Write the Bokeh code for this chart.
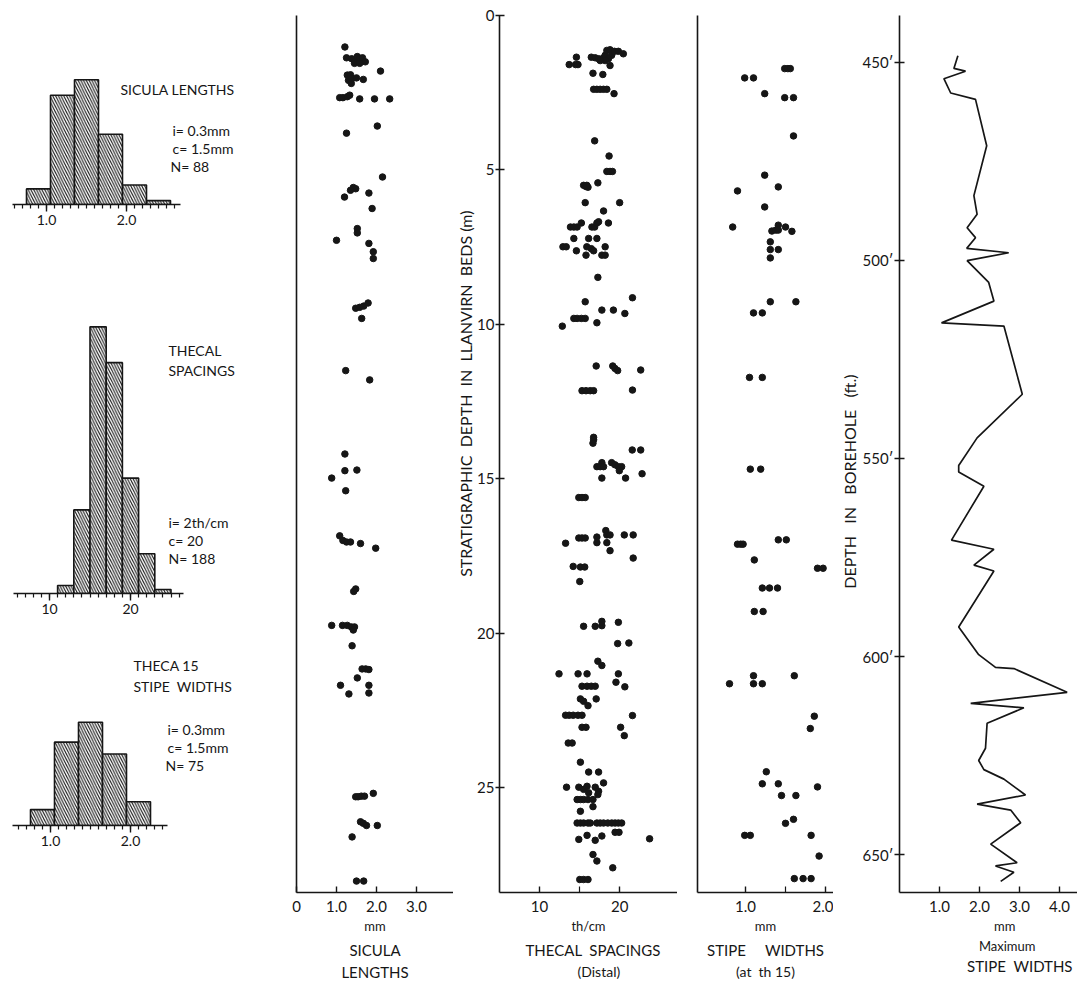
from bokeh.plotting import figure
from bokeh.layouts import row, column
from bokeh.models import Range1d, FixedTicker, Label, Title, PrintfTickFormatter
from bokeh.embed import file_html
from bokeh.resources import INLINE

FONT = "Lato"
INK = "#161616"
NB = "\u00a0"

# ---------------- histogram data ----------------
sic_edges = [0.75, 1.05, 1.35, 1.65, 1.95, 2.25, 2.55]
sic_counts = [4, 28, 32, 18, 5, 1]
thc_edges = [11, 13, 15, 17, 19, 21, 23, 25]
thc_counts = [2, 21, 67, 58, 29, 10, 1]
stw_edges = [0.75, 1.05, 1.35, 1.65, 1.95, 2.25]
stw_counts = [4, 21, 26, 18, 6]

# ---------------- sicula lengths (mm) vs depth (m) ----------------
sic_len = [1.21, 1.25, 1.38, 1.46, 1.52, 1.58, 1.65, 1.72, 1.45, 1.58, 2.1,
           1.27, 1.35, 1.30, 1.38, 1.50, 1.67, 1.37, 1.08, 1.16, 1.27, 1.33, 1.58, 1.95, 2.33,
           2.02, 1.25, 2.15, 1.42, 1.48, 1.35, 1.2, 1.81, 1.89, 1.52, 1.52, 1.0, 1.81, 1.92, 1.92,
           1.48, 1.58, 1.68, 1.79, 1.63, 1.23, 1.83, 1.21, 1.21, 1.51, 0.88, 1.23,
           1.08, 1.16, 1.25, 1.35, 1.6, 1.98, 1.43, 1.48, 0.88, 1.15, 1.27, 1.37, 1.45, 1.42,
           1.39, 1.64, 1.73, 1.81, 1.52, 1.1, 1.81, 1.31, 1.81, 1.48, 1.54, 1.62, 1.70, 1.92,
           1.6, 1.67, 1.75, 2.02, 1.39, 1.5, 1.68]
sic_dep = [1.02, 1.37, 1.40, 1.50, 1.33, 1.40, 1.37, 1.50, 1.55, 1.55, 1.80,
           1.93, 1.92, 2.10, 2.05, 2.02, 2.07, 2.20, 2.66, 2.66, 2.63, 2.58, 2.70, 2.70, 2.70,
           3.58, 3.81, 5.23, 5.57, 5.61, 5.66, 5.88, 5.75, 6.25, 6.90, 7.04, 7.28, 7.38, 7.65, 7.87,
           9.48, 9.45, 9.41, 9.31, 9.81, 11.5, 11.8, 14.2, 14.74, 14.72, 14.98, 15.39,
           16.85, 17.0, 17.05, 17.05, 17.1, 17.25, 18.65, 18.57, 19.75, 19.75, 19.75, 19.8, 19.8, 19.9,
           20.41, 21.16, 21.16, 21.18, 21.45, 21.69, 21.69, 21.97, 21.94, 25.3, 25.3, 25.28, 25.28, 25.19,
           26.11, 26.16, 26.23, 26.23, 26.6, 28.03, 28.03]

# ---------------- thecal spacings (th/cm) vs depth (m) ----------------
thc_val = [14.6, 13.7, 14.5, 14.8, 16.46, 16.95, 17.37, 17.78, 17.99, 18.19, 18.4, 18.8, 19.0, 19.35,
           19.84, 20.46, 18.6, 18.19, 17.57, 18.8, 16.67, 17.9, 16.75, 17.15, 17.57, 17.98, 18.4, 19.3,
           16.88, 18.68, 18.4, 18.8, 19.1, 17.28, 15.5, 15.8, 16.05, 15.9, 15.7, 20.0, 17.99,
           13.86, 14.28, 14.69, 15.22, 16.54, 16.88, 17.16, 17.37, 18.6, 14.28, 16.13, 17.16,
           12.92, 13.33, 15.9, 16.46, 16.75, 14.6, 15.8, 18.19, 17.78, 18.19,
           17.28, 21.6, 15.7, 17.78, 19.22, 20.65, 14.28, 14.69, 15.22, 15.7, 12.84, 17.16,
           17.07, 19.14, 19.42, 19.75, 22.63, 15.3, 15.8, 16.33, 16.75, 21.6,
           16.75, 16.75, 16.67, 21.57, 22.63, 17.78, 17.16, 17.57, 17.99, 19.0, 19.42, 19.84, 20.25, 19.96,
           17.78, 20.74, 22.8, 14.9, 15.3, 15.7, 13.25, 14.9, 15.3, 15.7, 17.16, 17.16,
           18.27, 18.4, 18.8, 18.4, 18.8, 20.58, 21.69, 21.69, 14.2, 15.1, 15.64, 15.02,
           15.5, 16.95, 17.78, 17.78, 19.84, 19.75, 21.15, 17.28, 17.78, 12.43, 14.81, 15.93, 19.84,
           15.3, 15.93, 16.46, 16.95, 19.54, 20.65, 15.1, 15.5, 16.05, 17.07,
           13.25, 13.7, 14.2, 14.8, 15.3, 21.6, 15.3, 15.8, 20.12, 20.58,
           13.58, 14.07, 15.1, 16.13, 17.37, 13.37, 14.9, 15.5, 15.93, 16.13, 16.95, 17.37, 17.99, 17.28,
           14.69, 15.1, 15.5, 16.05, 16.67, 15.1, 16.67,
           14.69, 15.1, 15.5, 16.05, 16.34, 17.16, 17.57, 17.99, 18.52, 19.01, 19.43, 19.84, 20.25,
           19.43, 19.92, 14.9, 15.93, 16.95, 17.78, 23.74, 16.67, 17.16, 19.14, 15.02, 15.5, 16.05]
thc_dep = [1.35, 1.59, 1.59, 1.59, 1.35, 1.37, 1.40, 1.43, 1.37, 1.29, 1.13, 1.11, 1.29, 1.16,
           1.16, 1.24, 1.40, 1.46, 1.46, 1.62, 1.87, 1.91, 2.39, 2.39, 2.39, 2.39, 2.39, 2.53,
           4.06, 4.55, 5.05, 5.05, 5.05, 5.42, 5.5, 5.54, 5.56, 5.5, 6.06, 6.06, 6.33,
           6.85, 6.85, 6.85, 6.72, 6.85, 6.85, 6.72, 6.68, 6.72, 7.22, 7.22, 7.22,
           7.49, 7.49, 7.49, 7.55, 7.62, 7.62, 7.76, 7.49, 7.76, 7.76,
           8.48, 9.14, 9.27, 9.54, 9.54, 9.65, 9.81, 9.81, 9.81, 9.81, 10.06, 9.95,
           11.35, 11.35, 11.43, 11.5, 11.48, 12.15, 12.15, 12.15, 12.15, 12.13,
           13.66, 13.74, 13.85, 14.07, 14.07, 14.48, 14.61, 14.61, 14.61, 14.48, 14.55, 14.61, 14.61, 14.74,
           14.98, 14.98, 14.84, 15.61, 15.61, 15.61, 17.09, 16.92, 16.92, 16.92, 16.89, 17.07,
           16.68, 16.82, 16.82, 17.07, 17.33, 16.82, 16.82, 17.57, 17.84, 17.86, 17.86, 18.33,
           19.78, 19.78, 19.76, 19.62, 19.65, 20.34, 20.32, 20.91, 21.05, 21.32, 21.32, 21.32, 21.32,
           21.72, 21.72, 21.72, 21.72, 21.59, 21.74, 22.13, 22.21, 22.35, 22.13,
           22.66, 22.66, 22.66, 22.66, 22.66, 22.67, 23.05, 23.05, 23.05, 23.32,
           23.56, 23.56, 24.18, 24.5, 24.5, 24.99, 24.99, 25.06, 24.96, 25.17, 24.99, 25.12, 24.85, 25.23,
           25.39, 25.39, 25.39, 25.39, 25.39, 25.77, 25.62,
           26.15, 26.15, 26.15, 26.15, 26.15, 26.15, 26.15, 26.15, 26.15, 26.15, 26.15, 26.15, 26.15,
           26.45, 26.45, 26.68, 26.55, 26.71, 26.57, 26.66, 27.17, 27.38, 27.6, 27.98, 27.98, 27.98]

# ---------------- stipe widths at th15 (mm) vs depth (m) ----------------
stw_val = [1.49, 1.53, 1.56, 0.99, 1.10, 1.24, 1.49, 1.6, 1.6, 1.24, 1.41, 0.9, 1.24, 0.84,
           1.33, 1.38, 1.41, 1.41, 1.5, 1.58, 1.31, 1.31, 1.41, 1.31,
           1.31, 1.63, 1.1, 1.21, 1.05, 1.21, 1.06, 1.19,
           0.9, 0.94, 0.97, 1.41, 1.51, 1.11, 1.9, 1.97, 1.21, 1.3, 1.4, 1.11, 1.22,
           0.8, 1.1, 1.1, 1.21, 1.61, 1.86, 1.81, 1.26, 1.21, 1.41, 1.9, 1.45, 1.63, 1.6, 1.5,
           0.99, 1.06, 1.82, 1.92, 1.61, 1.72, 1.82]
stw_dep = [1.72, 1.72, 1.72, 2.02, 2.02, 2.53, 2.66, 2.66, 3.9, 5.17, 5.55, 5.68, 6.2, 6.85,
           6.98, 6.95, 6.79, 6.95, 6.85, 6.99, 7.33, 7.58, 7.58, 7.85,
           9.27, 9.27, 9.63, 9.63, 11.72, 11.72, 14.69, 14.69,
           17.12, 17.12, 17.12, 16.98, 16.98, 17.63, 17.9, 17.9, 18.54, 18.54, 18.54, 19.3, 19.3,
           21.64, 21.38, 21.64, 21.64, 21.38, 22.69, 23.09, 24.49, 24.88, 24.88, 24.98, 25.26, 25.26, 26.03, 26.16,
           26.55, 26.55, 26.55, 27.22, 27.95, 27.95, 27.95]

# ---------------- maximum stipe widths (mm) vs borehole depth (ft) ----------------
max_w = [1.46, 1.36, 1.65, 1.11, 1.28, 1.90, 2.18, 1.86, 1.94, 1.69, 1.90, 1.68, 2.73, 1.69,
         2.23, 2.36, 1.05, 2.61, 3.07, 1.94, 1.48, 1.48, 2.11, 1.30, 2.36, 1.86, 2.36, 1.48,
         1.98, 2.40, 2.86, 4.19, 1.78, 3.11, 2.19, 2.15, 1.98, 2.11, 2.61, 3.15, 1.94, 2.78,
         3.03, 2.28, 2.94, 2.40, 2.86, 2.53]
bore_ft = [448.4, 451.6, 452.3, 454.2, 457.8, 459.4, 471.1, 483.7, 488.4, 491.8, 494.3, 497.0, 498.1, 500.1,
           505.6, 510.3, 515.8, 516.6, 533.8, 544.8, 551.8, 553.4, 557.0, 570.6, 572.9, 576.9, 578.4, 592.5,
           599.5, 602.7, 603.0, 609.0, 611.8, 612.9, 616.8, 623.1, 626.2, 628.5, 630.9, 634.9, 637.2, 638.7,
           641.9, 647.3, 652.0, 652.8, 654.4, 656.7]

# tick values
sic_hist_ticks = [1.0, 2.0]
sic_hist_minor = [0.6, 0.7, 0.8, 0.9, 1.0, 1.1, 1.2, 1.3, 1.4, 1.5, 1.6, 1.7, 1.8, 1.9, 2.0, 2.1, 2.2, 2.3, 2.4, 2.5, 2.6]
thc_hist_ticks = [10, 20]
thc_hist_minor = [6, 7, 8, 9, 10, 11, 12, 13, 14, 15, 16, 17, 18, 19, 20, 21, 22, 23, 24, 25, 26]
stw_hist_ticks = [1.0, 2.0]
stw_hist_minor = [0.6, 0.7, 0.8, 0.9, 1.0, 1.1, 1.2, 1.3, 1.4, 1.5, 1.6, 1.7, 1.8, 1.9, 2.0, 2.1, 2.2, 2.3, 2.4]
depth_ticks = [0, 5, 10, 15, 20, 25]
bore_ticks = [450, 500, 550, 600, 650]


def style_axis(ax, size="14px"):
    ax.major_label_text_font = FONT
    ax.major_label_text_font_size = size
    ax.major_label_text_color = INK
    ax.axis_line_color = INK
    ax.axis_line_width = 1.6
    ax.major_tick_line_color = INK
    ax.major_tick_line_width = 1.4
    ax.minor_tick_line_color = INK
    ax.minor_tick_line_width = 1.2
    ax.axis_label_text_font = FONT
    ax.axis_label_text_font_style = "normal"
    ax.axis_label_text_color = INK


def add_title(p, text, side, size="15px", align="center", offset=0, standoff=1):
    p.add_layout(Title(text=text, align=align, offset=offset, standoff=standoff,
                       text_font=FONT, text_font_size=size, text_font_style="normal",
                       text_color=INK), side)


def make_hist(fig_top, height, top_b, bot_b, x0, sx, sy, edges, counts, ticks, minor, bounds, texts):
    frame_h = height - top_b - bot_b
    base = fig_top + top_b + frame_h
    p = figure(width=288, height=height, x_range=Range1d(x0, x0 + 288 / sx),
               y_range=Range1d(0, frame_h / sy), output_backend="svg", toolbar_location=None,
               min_border_left=0, min_border_right=0, min_border_top=top_b, min_border_bottom=bot_b)
    p.yaxis.visible = False
    p.grid.visible = False
    p.outline_line_color = None
    p.quad(left=edges[:-1], right=edges[1:], bottom=0, top=counts, fill_color="white",
           line_color=INK, line_width=1.6, hatch_pattern="left_diagonal_line",
           hatch_color=INK, hatch_weight=1.1, hatch_scale=5.5)
    ax = p.xaxis[0]
    ax.ticker = FixedTicker(ticks=ticks, minor_ticks=minor)
    ax.formatter = PrintfTickFormatter(format="%.1f" if ticks[0] < 5 else "%d")
    ax.bounds = bounds
    style_axis(ax, "14px")
    ax.major_tick_in = 0
    ax.major_tick_out = 7
    ax.minor_tick_in = 0
    ax.minor_tick_out = 4
    ax.major_label_standoff = 3
    for X, Y, txt in texts:
        p.add_layout(Label(x=x0 + X / sx, y=(base - Y) / sy, text=txt,
                           text_font=FONT, text_font_size="14px", text_color=INK,
                           text_baseline="middle", text_align="left"))
    return p


h1 = make_hist(0, 250, 30, 46, 0.425, 80, 3.9, sic_edges, sic_counts, sic_hist_ticks, sic_hist_minor,
               (0.58, 2.67), [(120, 89, "SICULA" + NB + "LENGTHS"), (172, 130, "i=" + NB + "0.3mm"),
                              (172, 148, "c=" + NB + "1.5mm"), (170, 166, "N=" + NB + "88")])
h2 = make_hist(250, 370, 40, 27, 3.95, 8.1, 3.98, thc_edges, thc_counts, thc_hist_ticks, thc_hist_minor,
               (5.5, 26.5), [(168, 350, "THECAL"), (168, 370, "SPACINGS"), (168, 522, "i=" + NB + "2th/cm"),
                             (168, 540, "c=" + NB + "20"), (168, 558, "N=" + NB + "188")])
h3 = make_hist(620, 361, 30, 156, 0.375, 80, 3.97, stw_edges, stw_counts, stw_hist_ticks, stw_hist_minor,
               (0.53, 2.46), [(133, 665, "THECA" + NB + "15"), (133, 686, "STIPE" + NB * 2 + "WIDTHS"),
                              (167, 729, "i=" + NB + "0.3mm"), (167, 747, "c=" + NB + "1.5mm"),
                              (165, 765, "N=" + NB + "75")])


def make_panel(width, left_b, x0, sx, yr, top_b, bot_b=88):
    frame_w = width - left_b
    p = figure(width=width, height=981, x_range=Range1d(x0, x0 + frame_w / sx), y_range=yr,
               output_backend="svg", toolbar_location=None, min_border_left=left_b,
               min_border_right=0, min_border_top=top_b, min_border_bottom=bot_b)
    p.grid.visible = False
    p.outline_line_color = None
    xa = p.xaxis[0]
    style_axis(xa, "15px")
    xa.major_tick_in = 6
    xa.major_tick_out = 0
    xa.minor_tick_in = 6
    xa.minor_tick_out = 0
    xa.major_label_standoff = 8
    xa.axis_label_standoff = 3
    xa.axis_label_text_font_size = "13px"
    ya = p.yaxis[0]
    style_axis(ya, "15px")
    return p


def plain_y(p):
    ya = p.yaxis[0]
    ya.ticker = FixedTicker(ticks=[])
    ya.major_label_text_font_size = "0px"
    ya.major_tick_line_color = None
    ya.minor_tick_line_color = None


# panel 1: sicula lengths
p1 = make_panel(165, 8, 0.0, 40, Range1d(28.4, 0), 15)
plain_y(p1)
p1.xaxis.ticker = FixedTicker(ticks=[0, 1, 2, 3], minor_ticks=[3.95])
p1.xaxis.formatter = PrintfTickFormatter(format="%.1f")
p1.xaxis.major_label_overrides = {0: "0"}
p1.xaxis.axis_label = "mm"
add_title(p1, "SICULA", "below", standoff=4)
add_title(p1, "LENGTHS", "below")
p1.scatter(sic_len, sic_dep, size=6.5, color=INK)

# panel 2: thecal spacings
p2 = make_panel(224, 44, 5.0, 8.1, Range1d(28.4, 0), 15)
p2.xaxis.ticker = FixedTicker(ticks=[10, 20], minor_ticks=[15])
p2.xaxis.axis_label = "th/cm"
ya = p2.yaxis[0]
ya.ticker = FixedTicker(ticks=depth_ticks, minor_ticks=[])
ya.major_tick_in = 5
ya.major_tick_out = 4
ya.major_label_standoff = 1
add_title(p2, NB.join(["STRATIGRAPHIC", "", "DEPTH", "", "IN", "", "LLANVIRN", "", "BEDS", "(m)"]),
          "left", size="16px", align="right", offset=195, standoff=0)
add_title(p2, "THECAL" + NB * 2 + "SPACINGS", "below", align="left", offset=26, standoff=4)
add_title(p2, "(Distal)", "below", size="14px", align="left", offset=78)
p2.scatter(thc_val, thc_dep, size=6.5, color=INK)

# panel 3: stipe widths
p3 = make_panel(156, 20, 0.4, 80, Range1d(28.4, 0), 15)
plain_y(p3)
p3.xaxis.ticker = FixedTicker(ticks=[1.0, 2.0], minor_ticks=[1.5])
p3.xaxis.formatter = PrintfTickFormatter(format="%.1f")
p3.xaxis.axis_label = "mm"
add_title(p3, "STIPE" + NB * 5 + "WIDTHS", "below", standoff=4)
add_title(p3, "(at" + NB * 2 + "th" + NB + "15)", "below", size="14px")
p3.scatter(stw_val, stw_dep, size=6.5, color=INK)

# panel 4: maximum stipe widths in borehole
p4 = make_panel(244, 66, 0.0, 40, Range1d(659.5, 438.25), 8)
p4.xaxis.ticker = FixedTicker(ticks=[1, 2, 3, 4], minor_ticks=[])
p4.xaxis.formatter = PrintfTickFormatter(format="%.1f")
ya = p4.yaxis[0]
ya.ticker = FixedTicker(ticks=bore_ticks, minor_ticks=[])
ya.major_label_overrides = {t: f"{t}\u2032" for t in bore_ticks}
ya.major_tick_in = 5
ya.major_tick_out = 5
ya.major_label_standoff = 1
add_title(p4, NB.join(["DEPTH", "", "", "IN", "", "", "BOREHOLE", "", "", "(ft.)"]), "left", size="16px",
          align="right", offset=359, standoff=1)
add_title(p4, "mm", "below", size="13px", align="right", offset=62, standoff=3)
add_title(p4, "Maximum", "below", size="13px", align="right", offset=42, standoff=1)
add_title(p4, "STIPE" + NB * 2 + "WIDTHS", "below", align="right", offset=5)
p4.line(max_w, bore_ft, line_width=1.7, color=INK)

layout = row(column(h1, h2, h3), p1, p2, p3, p4)
open("out.html", "w").write(file_html(layout, INLINE))
